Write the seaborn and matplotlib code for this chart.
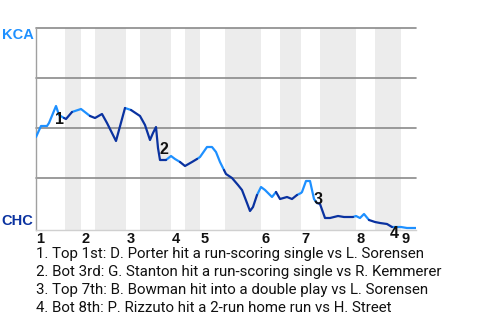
import numpy as np
import pandas as pd
import matplotlib
matplotlib.use("Agg")
import matplotlib.pyplot as plt
import seaborn as sns

# ---- data ----
away_team = "KCA"
home_team = "CHC"
progress = [0, 5, 11, 13, 20, 23, 28,
            30, 36, 45,
            54, 59,
            66, 71, 80, 89,
            95, 104,
            109, 114, 117, 120, 122, 124, 130, 135,
            139, 144, 149,
            156, 161, 164,
            171, 176, 180, 184, 188,
            190, 196, 202, 206, 211, 214, 217, 221, 225,
            229, 236, 240, 244,
            251, 256, 261, 265,
            266, 270, 274, 278, 281, 284,
            289, 294, 302, 308, 317, 320,
            324, 328, 333, 339,
            344, 351, 356, 365,
            371, 380]
win_prob = [0.455, 0.51, 0.51, 0.525, 0.61, 0.565, 0.55,
            0.545, 0.58, 0.595,
            0.56, 0.55,
            0.57, 0.525, 0.435, 0.60,
            0.59, 0.56,
            0.515, 0.44, 0.475, 0.505, 0.40, 0.34, 0.34, 0.36,
            0.345, 0.33, 0.31,
            0.33, 0.345, 0.355,
            0.405, 0.405, 0.38, 0.33, 0.29,
            0.27, 0.25, 0.215, 0.19, 0.125, 0.085, 0.105, 0.165, 0.205,
            0.19, 0.155, 0.18, 0.145,
            0.155, 0.145, 0.165, 0.175,
            0.18, 0.235, 0.235, 0.145, 0.125, 0.12,
            0.05, 0.05, 0.06, 0.055, 0.055, 0.06,
            0.05, 0.07, 0.04, 0.03,
            0.025, 0.02, 0.005, 0.005,
            0.0, 0.0]
half_starts = [0, 29, 45, 59, 90, 104, 135, 149, 164, 189,
               225, 244, 265, 284, 320, 339, 365]
game_end = 380
inning_labels = ["1", "2", "3", "4", "5", "6", "7", "8", "9"]
event_labels = ["1", "2", "3", "4"]
event_x = [23, 128, 282, 358]
event_y = [0.54, 0.39, 0.14, -0.025]
captions = [
    "1. Top 1st: D. Porter hit a run-scoring single vs L. Sorensen",
    "2. Bot 3rd: G. Stanton hit a run-scoring single vs R. Kemmerer",
    "3. Top 7th: B. Bowman hit into a double play vs L. Sorensen",
    "4. Bot 8th: P. Rizzuto hit a 2-run home run vs H. Street",
]

away_color = "#1E90FF"
home_color = "#0A32A0"

# ---- build segments per half inning ----
rows = []
ends = half_starts[1:] + [game_end + 1]
for h, (s, e) in enumerate(zip(half_starts, ends)):
    idx = [i for i, x in enumerate(progress) if s <= x < e]
    if not idx:
        continue
    if idx[0] > 0:
        idx = [idx[0] - 1] + idx
    for i in idx:
        rows.append({"progress": progress[i], "win_prob": win_prob[i],
                     "half": h, "batting": away_team if h % 2 == 0 else home_team})
df = pd.DataFrame(rows)

sns.set_style("white")
plt.rcParams["font.family"] = ["Roboto", "DejaVu Sans"]
label_font = ["Liberation Sans", "DejaVu Sans"]

fig = plt.figure(figsize=(4.8, 3.2), dpi=100)
ax = fig.add_axes([36 / 480, 1 - 230 / 320, 380 / 480, 202 / 320])
ax.set_xlim(0, game_end)
ax.set_ylim(-0.01, 1.0)

# bottom-half shading
for h in range(1, len(half_starts), 2):
    s = half_starts[h]
    e = half_starts[h + 1] if h + 1 < len(half_starts) else game_end
    ax.axvspan(s, e, color="#ececec", lw=0, zorder=0)

for g in [0.25, 0.5, 0.75, 1.0]:
    ax.axhline(g, color="#8a8a8a", lw=1.2, zorder=1, clip_on=False)

sns.lineplot(data=df, x="progress", y="win_prob", hue="batting",
             units="half", estimator=None, sort=False,
             palette={away_team: away_color, home_team: home_color},
             linewidth=1.6, legend=False, ax=ax, zorder=3)

for lab, x, y in zip(event_labels, event_x, event_y):
    ax.text(x, y, lab, fontsize=11.5, fontweight="bold", color="#111111",
            family=label_font, ha="center", va="center", zorder=4, clip_on=False)

for lab, s in zip(inning_labels, half_starts[::2]):
    ax.text(s + 0.5, -0.045, lab, transform=ax.get_xaxis_transform(),
            fontsize=10.5, fontweight="bold", color="#111111",
            family=label_font, ha="left", va="center")

ax.set_xticks([])
ax.set_yticks([])
ax.set_xlabel("")
ax.set_ylabel("")
for sp in ["top", "right"]:
    ax.spines[sp].set_visible(False)
ax.spines["left"].set_color("#a0a0a0")
ax.spines["left"].set_linewidth(1)
ax.spines["bottom"].set_color("#d0d0d0")
ax.spines["bottom"].set_linewidth(1)

fig.text(17.5 / 480, 1 - 35 / 320, away_team, color=away_color, family=label_font,
         fontsize=10.5, fontweight="bold", ha="center", va="center")
fig.text(17.5 / 480, 1 - 221 / 320, home_team, color=home_color, family=label_font,
         fontsize=10.5, fontweight="bold", ha="center", va="center")

for i, c in enumerate(captions):
    fig.text(36 / 480, 1 - (254 + 18 * i) / 320, c, fontsize=10.8,
             color="#111111", ha="left", va="center")

fig.savefig("out.png", dpi=100)
